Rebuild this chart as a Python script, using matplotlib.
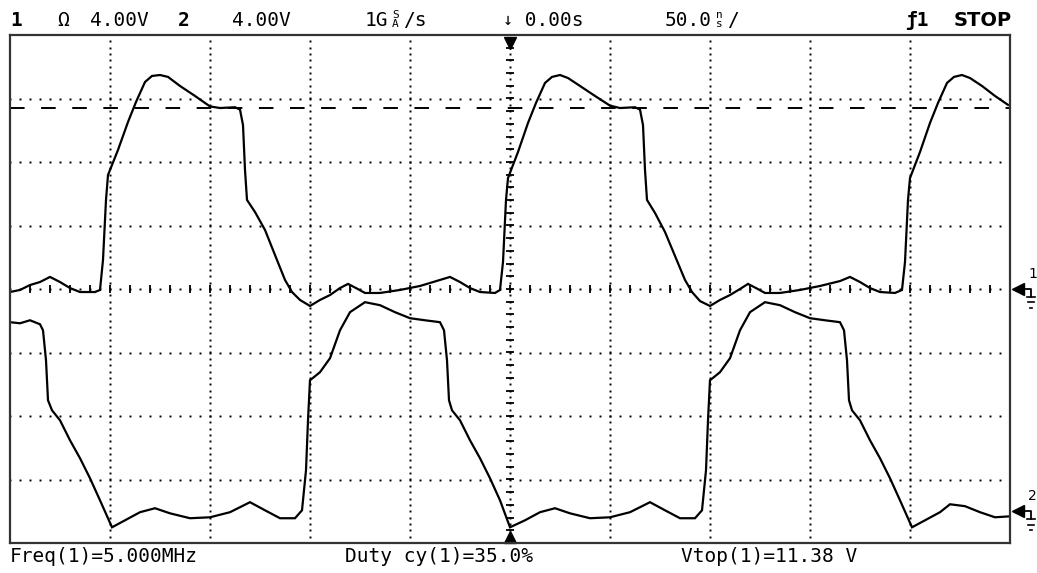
import numpy as np
import matplotlib.pyplot as plt

# Scope settings
VOLTS_DIV = 4.0      # V/div, both channels
TIME_DIV = 50.0      # ns/div
CH2_OFFSET = -14.0   # ch2 ground shown 3.5 div below centre
VTOP = 11.38

# Channel 1 trace (time in ns, volts)
ch1_t = [-250, -245, -240, -235, -230, -225, -220, -215, -207.5, -205,
         -203.5, -202, -201, -196, -191, -187, -182.5, -179, -175, -171,
         -165, -157.5, -150, -145, -137.5, -135, -133.5, -132.5, -131.5, -127.5,
         -122.5, -117.5, -112.5, -109, -105, -100, -95, -90, -85, -81,
         -77, -72.5, -65, -55, -45, -35, -30, -25, -20, -15,
         -7.5, -5, -3.5, -2, -1, 4, 9, 13, 17.5, 21,
         25, 29, 35, 42.5, 50, 55, 62.5, 65, 66.5, 67.5,
         68.5, 72.5, 77.5, 82.5, 87.5, 91, 95, 100, 105, 110,
         115, 119, 123, 127.5, 135, 145, 155, 165, 170, 175,
         180, 185, 192.5, 196, 197.5, 199, 200, 205, 210, 214,
         218.5, 222, 226, 230, 236, 242.5, 249]
ch1_v = [-0.19, -0.06, 0.25, 0.44, 0.76, 0.44, 0.06, -0.19, -0.19, -0.06,
         1.83, 5.61, 7.18, 8.76, 10.52, 11.78, 13.04, 13.42, 13.48, 13.36,
         12.79, 12.16, 11.50, 11.40, 11.45, 11.30, 10.33, 7.50, 5.61, 4.85,
         3.72, 2.14, 0.57, -0.19, -0.69, -1.07, -0.69, -0.38, 0.06, 0.32,
         0.06, -0.25, -0.25, -0.06, 0.19, 0.57, 0.76, 0.44, 0.06, -0.19,
         -0.25, -0.06, 1.70, 5.61, 6.99, 8.63, 10.46, 11.72, 12.98, 13.36,
         13.48, 13.29, 12.79, 12.16, 11.55, 11.40, 11.45, 11.30, 10.33, 7.50,
         5.61, 4.79, 3.59, 2.08, 0.57, -0.19, -0.76, -1.07, -0.69, -0.38,
         0.00, 0.32, 0.06, -0.25, -0.25, -0.06, 0.19, 0.50, 0.76, 0.44,
         0.06, -0.19, -0.25, -0.06, 1.70, 5.61, 6.99, 8.63, 10.46, 11.72,
         12.98, 13.36, 13.48, 13.29, 12.79, 12.16, 11.60]

# Channel 2 trace (time in ns, volts relative to ch2 ground)
ch2_t = [-250, -245, -240, -235, -233.5, -232, -231, -229, -225, -220,
         -215, -210, -205, -199, -192.5, -185, -177.5, -170, -160, -150,
         -140, -130, -122.5, -115, -107.5, -104, -102, -101, -100, -95,
         -90, -85, -80, -72.5, -65, -57.5, -50, -42.5, -35, -33,
         -31.5, -30.5, -29, -25, -20, -15, -10, -5, 0, 7.5,
         15, 22.5, 30, 40, 50, 60, 70, 77.5, 85, 92.5,
         96, 98, 99, 100, 105, 110, 115, 120, 127.5, 135,
         142.5, 150, 157.5, 165, 167, 168.5, 169.5, 171, 175, 180,
         185, 190, 195, 201, 207.5, 215, 220, 227.5, 235, 242.5, 250]
ch2_v = [11.91, 11.84, 12.03, 11.78, 11.40, 9.51, 6.99, 6.36, 5.73, 4.47,
         3.34, 2.08, 0.69, -1.01, -0.57, -0.06, 0.19, -0.13, -0.44, -0.38,
         -0.06, 0.57, 0.06, -0.44, -0.44, 0.06, 2.58, 5.73, 8.25, 8.76,
         9.64, 11.40, 12.54, 13.17, 12.98, 12.54, 12.16, 12.03, 11.91, 11.40,
         9.51, 6.99, 6.36, 5.73, 4.47, 3.34, 2.08, 0.69, -1.01, -0.57,
         -0.06, 0.19, -0.13, -0.44, -0.38, -0.06, 0.57, 0.06, -0.44, -0.44,
         0.06, 2.58, 5.73, 8.25, 8.76, 9.64, 11.40, 12.54, 13.17, 12.98,
         12.54, 12.16, 12.03, 11.91, 11.40, 9.51, 6.99, 6.36, 5.73, 4.47,
         3.34, 2.08, 0.69, -1.01, -0.57, -0.06, 0.44, 0.32, -0.06, -0.38, -0.32]

W, H = 1037, 573
fig = plt.figure(figsize=(W / 100, H / 100), dpi=100)
ax = fig.add_axes([10 / W, 30 / H, 1000 / W, 508 / H])
ax.set_xlim(-5 * TIME_DIV, 5 * TIME_DIV)
ax.set_ylim(-4 * VOLTS_DIV, 4 * VOLTS_DIV)
ax.set_xticks([])
ax.set_yticks([])
for s in ax.spines.values():
    s.set_color('#333333')
    s.set_linewidth(1.6)

# graticule: dotted lines every division
dot = dict(ls='none', marker='s', ms=1.4, mew=0, color='black')
for k in range(-4, 5):
    if k == 0:
        continue
    gx = k * TIME_DIV
    ax.plot(np.full(80, gx), np.arange(-16, 16, 0.4), **dot)
for k in range(-3, 4):
    if k == 0:
        continue
    gy = k * VOLTS_DIV
    ax.plot(np.arange(-250, 250, 5), np.full(100, gy), **dot)

# centre axes with minor ticks
ax.plot(np.arange(-250, 250, 5), np.zeros(100), **dot)
ax.plot(np.zeros(80), np.arange(-16, 16, 0.4), **dot)
ax.plot(np.arange(-240, 250, 10), np.zeros(49), ls='none', marker='|',
        ms=6, mew=1.3, color='black')
ax.plot(np.zeros(39), np.arange(-15.2, 15.3, 0.8), ls='none', marker='_',
        ms=6, mew=1.3, color='black')

# Vtop marker line
ax.axhline(VTOP, color='black', lw=1.4, dashes=(7.5, 8.5))

# traces
ax.plot(ch1_t, ch1_v, color='black', lw=1.6, solid_joinstyle='miter')
ax.plot(ch2_t, np.array(ch2_v) + CH2_OFFSET, color='black', lw=1.6,
        solid_joinstyle='miter')

# trigger position markers
ax.plot(0, 15.5, marker='v', ms=8, color='black', clip_on=False)
ax.plot(0, -15.6, marker='^', ms=8, color='black', clip_on=False)

# ground markers on the right (arrow, channel number, earth symbol)
for gnd, lab in [(0.0, '1'), (CH2_OFFSET, '2')]:
    ax.plot(254, gnd, marker='<', ms=8, color='black', clip_on=False)
    ax.plot([254, 260.5, 260.5], [gnd, gnd, gnd - 0.5], color='black',
            lw=1.3, clip_on=False)
    for w, dy in [(2.2, 0.5), (1.4, 0.85), (0.6, 1.2)]:
        ax.plot([260.5 - w, 260.5 + w], [gnd - dy, gnd - dy], color='black',
                lw=1.2, clip_on=False)
    ax.text(259, gnd + 0.5, lab, fontsize=10, fontfamily='DejaVu Sans',
            ha='left', va='bottom')

mono = 'DejaVu Sans Mono'
FS = 14


def hdr(x, y, s, **kw):
    kw.setdefault('fontsize', FS)
    kw.setdefault('fontfamily', mono)
    fig.text(x / W, 1 - y / H, s, ha='left', va='center', **kw)


hdr(10, 20, '1', fontweight='bold')
hdr(57, 20, '\u03a9')
hdr(90, 20, '4.00V')
hdr(178, 20, '2', fontweight='bold')
hdr(232, 20, '4.00V')
hdr(365, 20, '1G')
hdr(392, 15, 'S', fontsize=8)
hdr(392, 24, 'A', fontsize=8)
hdr(403, 20, '/s')
hdr(503, 20, '\u2193', fontsize=12)
hdr(513, 20, '\u20000.00s')
hdr(665, 20, '50.0')
hdr(716, 15, 'n', fontsize=8)
hdr(716, 24, 's', fontsize=8)
hdr(727, 20, '/')
hdr(905, 20, '\u01921', fontweight='bold')
hdr(954, 20, 'STOP', fontweight='bold', fontfamily='DejaVu Sans')

hdr(10, 557, 'Freq(1)=5.000MHz')
hdr(345, 557, 'Duty cy(1)=35.0%')
hdr(681, 557, 'Vtop(1)=11.38 V')

fig.savefig('out.png', dpi=100)
